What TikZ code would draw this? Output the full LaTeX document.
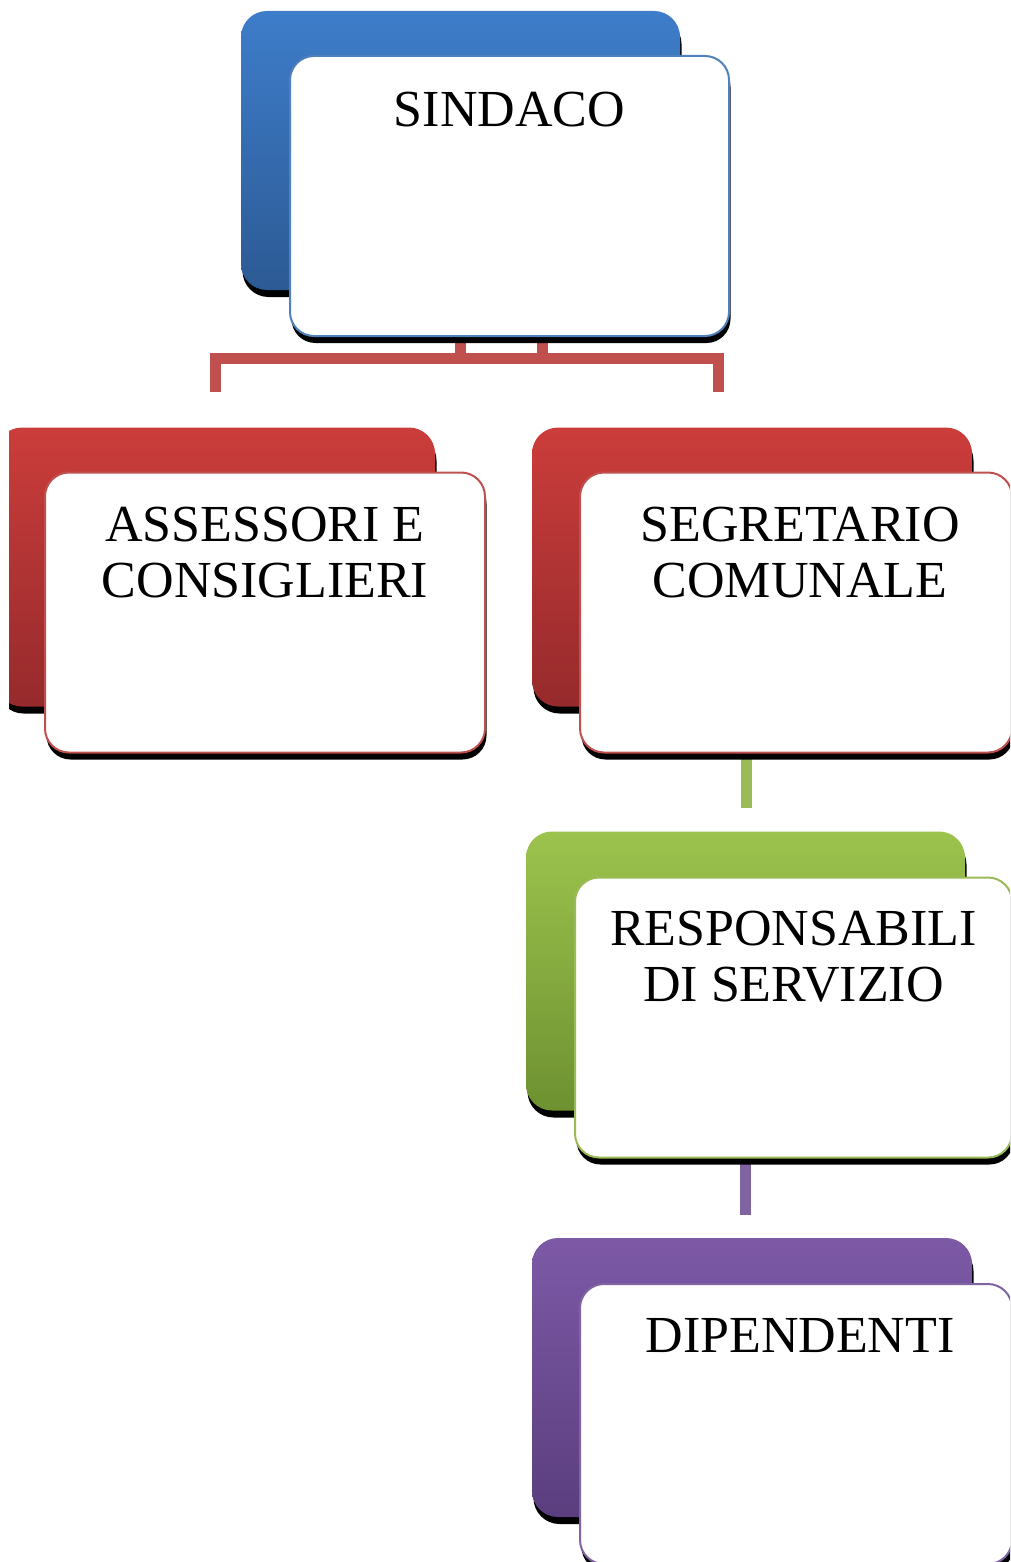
\documentclass[tikz,border=0pt]{standalone}
\usepackage{fontspec}
\setmainfont{Liberation Serif}
\usetikzlibrary{shadows,backgrounds}
\definecolor{blueTop}{HTML}{3E7DCA}
\definecolor{blueBot}{HTML}{2C5A94}
\definecolor{redTop}{HTML}{CB3D3B}
\definecolor{redBot}{HTML}{962A2C}
\definecolor{greenTop}{HTML}{9CC34D}
\definecolor{greenBot}{HTML}{6E9131}
\definecolor{purpleTop}{HTML}{7D59A6}
\definecolor{purpleBot}{HTML}{5A3E7E}
\definecolor{blueLine}{HTML}{4F81BD}
\definecolor{redLine}{HTML}{C0504D}
\definecolor{greenLine}{HTML}{9BBB59}
\definecolor{purpleLine}{HTML}{8064A2}
\begin{document}
\begin{tikzpicture}[x=1pt,y=-1pt,
  hardshadow/.style={drop shadow={shadow xshift=1.5pt,shadow yshift=-7pt,fill=black,opacity=1}},
  backbox/.style={rectangle,rounded corners=26pt,inner sep=0pt,
    minimum width=#1,minimum height=279pt,hardshadow},
  frontbox/.style={rectangle,rounded corners=24pt,inner sep=0pt,fill=white,
    line width=2pt,minimum width=#1,minimum height=280pt,hardshadow},
  lbl/.style={inner sep=0pt,align=center,text=black,
    font=\fontsize{52}{56}\selectfont,anchor=north},
  conn/.style={line width=11pt,draw=#1}
]
\useasboundingbox (0,0) rectangle (1010,1562);
\begin{scope}
\clip (9,0) rectangle (1010,1562);
% SINDACO
\node[backbox=439pt,top color=blueTop,bottom color=blueBot] (sindB) at (460.5,150.5) {};
\node[frontbox=439pt,draw=blueLine] (sind) at (509.5,196) {};
\node[lbl] (tsind) at ([yshift=-37pt]sind.north) {SINDACO};
% ASSESSORI
\node[backbox=439pt,top color=redTop,bottom color=redBot] (assB) at (215.5,567) {};
\node[frontbox=440pt,draw=redLine] (ass) at (265,612.5) {};
\node[lbl] (tass) at ([yshift=-35pt]ass.north) {ASSESSORI E\\CONSIGLIERI};
% SEGRETARIO
\node[backbox=440pt,top color=redTop,bottom color=redBot] (segB) at (752,567) {};
\node[frontbox=432pt,draw=redLine] (seg) at (796,612.5) {};
\node[lbl] (tseg) at ([xshift=4pt,yshift=-35pt]seg.north) {SEGRETARIO\\COMUNALE};
% RESPONSABILI
\node[backbox=439pt,top color=greenTop,bottom color=greenBot] (resB) at (745.5,971) {};
\node[frontbox=437pt,draw=greenLine] (res) at (793.5,1017.5) {};
\node[lbl] (tres) at ([yshift=-34pt]res.north) {RESPONSABILI\\DI SERVIZIO};
% DIPENDENTI
\node[backbox=440pt,top color=purpleTop,bottom color=purpleBot] (dipB) at (752,1377.5) {};
\node[frontbox=432pt,draw=purpleLine] (dip) at (796,1424) {};
\node[lbl] (tdip) at ([xshift=4pt,yshift=-35pt]dip.north) {DIPENDENTI};
\end{scope}
% connectors
\begin{scope}[on background layer]
\coordinate (jL) at (215,392);
\coordinate (jR) at (718,392);
\draw[conn=redLine] (jL) -- ++(0,-34) -| (jR);
\draw[conn=redLine] ([xshift=-49.5pt]sind.south) -- ++(0,23);
\draw[conn=redLine] ([xshift=32.5pt]sind.south) -- ++(0,23);
\draw[conn=greenLine] ([xshift=-50pt]seg.south) -- ++(0,54);
\draw[conn=purpleLine] ([xshift=-48.5pt]res.south) -- ++(0,56);
\end{scope}
\end{tikzpicture}
\end{document}
